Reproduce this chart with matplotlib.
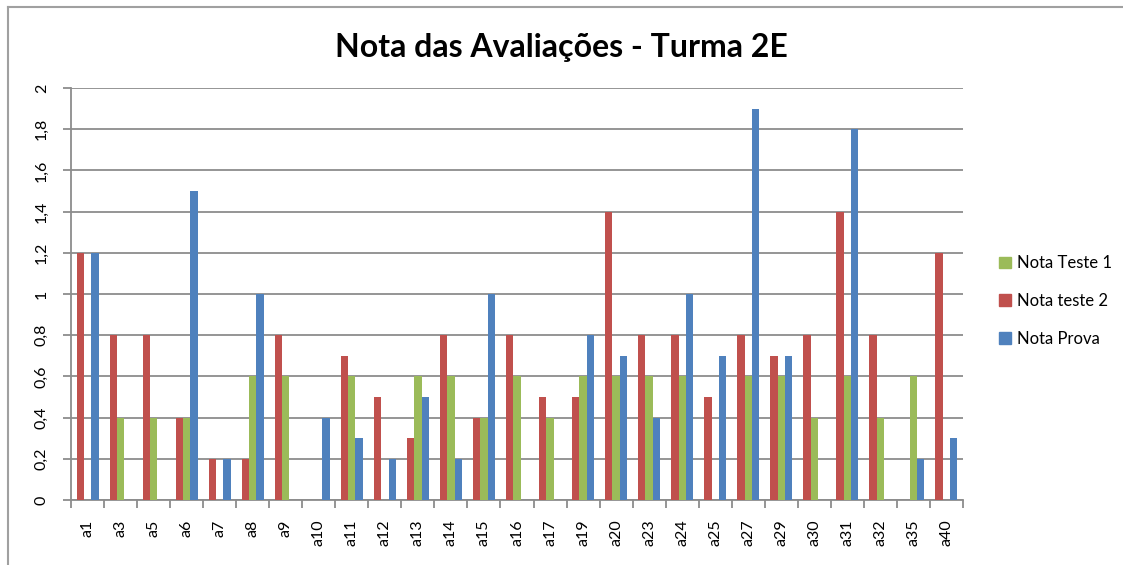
import matplotlib
matplotlib.use("Agg")
import matplotlib.pyplot as plt
import numpy as np
from matplotlib.patches import Patch
from matplotlib.lines import Line2D

categories = ["a1", "a3", "a5", "a6", "a7", "a8", "a9", "a10", "a11", "a12", "a13", "a14",
              "a15", "a16", "a17", "a19", "a20", "a23", "a24", "a25", "a27", "a29", "a30",
              "a31", "a32", "a35", "a40"]
nota_teste1 = [0, 0.4, 0.4, 0.4, 0, 0.6, 0.6, 0, 0.6, 0, 0.6, 0.6,
               0.4, 0.6, 0.4, 0.6, 0.6, 0.6, 0.6, 0, 0.6, 0.6, 0.4,
               0.6, 0.4, 0.6, 0]
nota_teste2 = [1.2, 0.8, 0.8, 0.4, 0.2, 0.2, 0.8, 0, 0.7, 0.5, 0.3, 0.8,
               0.4, 0.8, 0.5, 0.5, 1.4, 0.8, 0.8, 0.5, 0.8, 0.7, 0.8,
               1.4, 0.8, 0, 1.2]
nota_prova = [1.2, 0, 0, 1.5, 0.2, 1.0, 0, 0.4, 0.3, 0.2, 0.5, 0.2,
              1.0, 0, 0, 0.8, 0.7, 0.4, 1.0, 0.7, 1.9, 0.7, 0,
              1.8, 0, 0.2, 0.3]
yticks = [0, 0.2, 0.4, 0.6, 0.8, 1, 1.2, 1.4, 1.6, 1.8, 2]
ytick_labels = ["0", "0,2", "0,4", "0,6", "0,8", "1", "1,2", "1,4", "1,6", "1,8", "2"]

C_GREEN = "#9BBB59"
C_RED = "#C0504D"
C_BLUE = "#4F81BD"
GRID = "#8C8C8C"

plt.rcParams['font.family'] = ['Lato', 'DejaVu Sans']

fig = plt.figure(figsize=(11.23, 5.65), dpi=100)
ax = fig.add_axes([71/1123, 1-500/565, (963-71)/1123, (500-88)/565])

x = np.arange(len(categories))
w = 1/(3+1.5)
ax.bar(x - w, nota_teste2, width=w, color=C_RED, zorder=3)
ax.bar(x, nota_teste1, width=w, color=C_GREEN, zorder=3)
ax.bar(x + w, nota_prova, width=w, color=C_BLUE, zorder=3)

ax.set_xlim(-0.5, len(categories) - 0.5)
ax.set_ylim(0, 2)
ax.set_yticks(yticks)
ax.set_yticklabels(ytick_labels, rotation=90, va="center", fontsize=11.5)
ax.yaxis.grid(True, color=GRID, linewidth=1.3, zorder=0)
ax.set_axisbelow(True)

ax.set_xticks(x)
ax.set_xticklabels(categories, rotation=90, fontsize=11.5)
ax.set_xticks(np.arange(-0.5, len(categories)), minor=True)
ax.tick_params(axis="x", which="major", length=0, pad=14)
ax.tick_params(axis="x", which="minor", length=6, width=1.3, color=GRID, direction="out")
ax.tick_params(axis="y", length=6, width=1.3, color=GRID, direction="out", pad=10)

for s in ["top", "right"]:
    ax.spines[s].set_visible(False)
for s in ["left", "bottom"]:
    ax.spines[s].set_color(GRID)
    ax.spines[s].set_linewidth(1.3)

fig.text(0.5, 1-47/565, "Nota das Avaliações - Turma 2E", ha="center", va="center",
         fontsize=23, fontweight="bold", color="black")

handles = [Patch(color=C_GREEN), Patch(color=C_RED), Patch(color=C_BLUE)]
fig.legend(handles, ["Nota Teste 1", "Nota teste 2", "Nota Prova"],
           loc="center left", bbox_to_anchor=(984/1123, 1-301/565), frameon=False,
           fontsize=12, handlelength=0.7, handleheight=0.7, handletextpad=0.4,
           labelspacing=1.3)

# chart frame
fig.add_artist(Line2D([8/1123, 8/1123], [0, 1-7/565], color="#A0A0A0", linewidth=1.5,
                      transform=fig.transFigure))
fig.add_artist(Line2D([8/1123, 1], [1-7/565, 1-7/565], color="#A0A0A0", linewidth=1.5,
                      transform=fig.transFigure))

fig.savefig("out.png", dpi=100)
